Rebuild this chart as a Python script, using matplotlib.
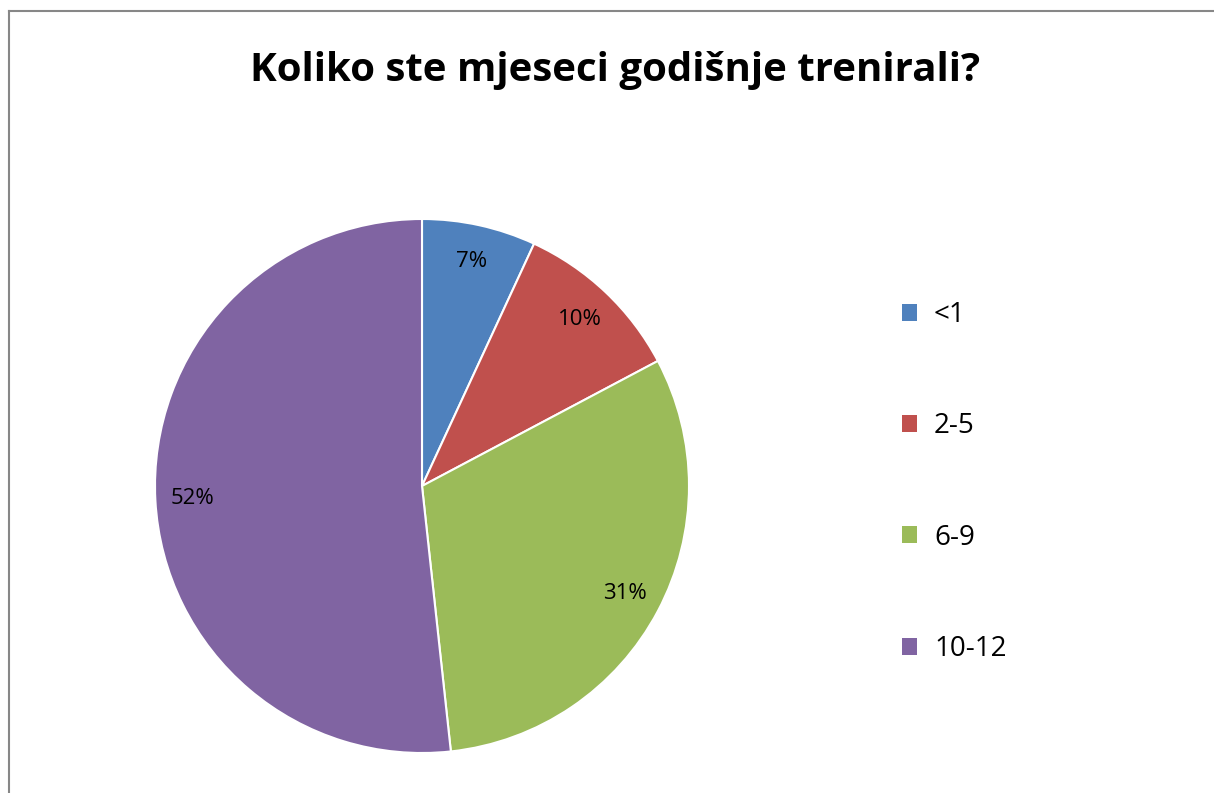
import matplotlib.pyplot as plt
from matplotlib.patches import Patch
from matplotlib.lines import Line2D

plt.rcParams['font.family'] = ['Open Sans', 'DejaVu Sans']

# odgovori (broj ispitanika)
categories = ['<1', '2-5', '6-9', '10-12']
counts = [2, 3, 9, 15]
colors = ['#4F81BD', '#C0504D', '#9BBB59', '#8064A2']
title = 'Koliko ste mjeseci godišnje trenirali?'

fig = plt.figure(figsize=(12.14, 7.93), dpi=100)

# okvir grafikona (gore i lijevo)
fig.add_artist(Line2D([9/1214, 9/1214], [0, 1 - 11/793], color='#878787', lw=1.5))
fig.add_artist(Line2D([9/1214, 1], [1 - 11/793, 1 - 11/793], color='#878787', lw=1.5))

ax = fig.add_axes([155/1214, 40/793, 534/1214, 534/793])
wedges, texts, autotexts = ax.pie(counts, colors=colors, startangle=90, counterclock=False,
                                  autopct=lambda p: f'{p:.0f}%', pctdistance=0.86,
                                  wedgeprops=dict(edgecolor='white', linewidth=1.5),
                                  textprops=dict(fontsize=16, color='black'))
ax.set_xlim(-1, 1)
ax.set_ylim(-1, 1)
ax.set_aspect('equal')

fig.text(615/1214, 1 - 71/793, title, ha='center', va='center', fontsize=29, fontweight='bold')

handles = [Patch(facecolor=c, edgecolor='none') for c in colors]
fig.legend(handles, categories, loc='upper left', bbox_to_anchor=(877/1214, 1 - 276/793),
           frameon=False, fontsize=20, handlelength=0.55, handleheight=0.55,
           handletextpad=0.6, labelspacing=3.0)

plt.savefig('out.png', dpi=100)
